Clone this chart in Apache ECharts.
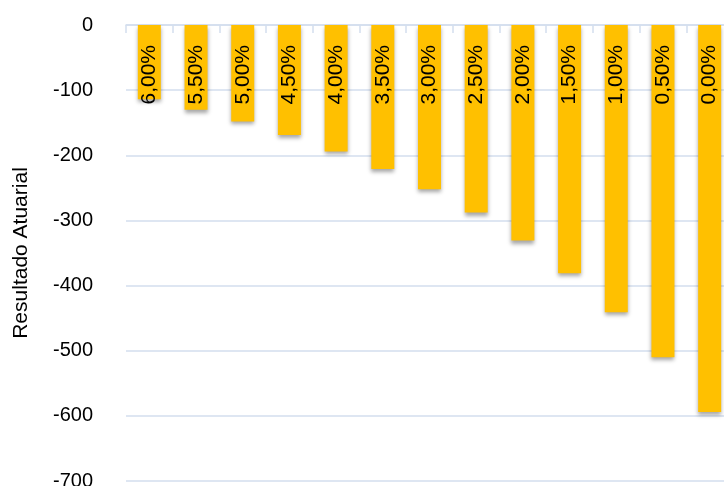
<!DOCTYPE html>
<html>
<head>
<meta charset="utf-8">
<script src="https://cdn.jsdelivr.net/npm/echarts@6/dist/echarts.min.js"></script>
<style>
html,body{margin:0;padding:0;background:#fff;overflow:hidden;width:724px;height:486px;}
#c{width:733px;height:486px;}
</style>
</head>
<body>
<div id="c"></div>
<script>
const categories = ['6,00%','5,50%','5,00%','4,50%','4,00%','3,50%','3,00%','2,50%','2,00%','1,50%','1,00%','0,50%','0,00%'];
const values = [-114, -130, -148, -169, -194, -221, -252, -288, -331, -381, -441, -510, -594];
const yTicks = { min: -700, max: 0, interval: 100 };
const axisName = 'Resultado Atuarial';

const chart = echarts.init(document.getElementById('c'), null, { renderer: 'canvas' });
chart.setOption({
  animation: false,
  grid: { left: 126, right: 0, top: 25, bottom: 5, containLabel: false, outerBoundsMode: 'none' },
  xAxis: {
    type: 'category',
    data: categories,
    axisLine: { onZero: true, lineStyle: { color: '#D3DEEE', width: 1.5 } },
    axisTick: { show: true, length: 8, lineStyle: { color: '#D3DEEE', width: 1.5 } },
    axisLabel: { show: false },
    splitLine: { show: false }
  },
  yAxis: {
    type: 'value',
    min: yTicks.min, max: yTicks.max, interval: yTicks.interval,
    name: axisName,
    nameLocation: 'middle',
    nameGap: 94,
    nameTextStyle: { fontFamily: 'Liberation Sans', fontSize: 21, color: '#000' },
    axisLine: { show: false },
    axisTick: { show: false },
    axisLabel: { fontFamily: 'Liberation Sans', fontSize: 20, color: '#000', margin: 33 },
    splitLine: { lineStyle: { color: '#D3DEEE', width: 1.5 } }
  },
  series: [{
    type: 'bar',
    data: values,
    barWidth: 23,
    itemStyle: {
      color: '#FFC000',
      shadowColor: 'rgba(0,0,0,0.35)',
      shadowBlur: 4,
      shadowOffsetY: 3
    },
    label: {
      show: true,
      position: 'insideTop',
      distance: 20,
      rotate: 90,
      align: 'right',
      verticalAlign: 'middle',
      formatter: (p) => categories[p.dataIndex],
      fontFamily: 'Liberation Sans',
      fontSize: 21,
      color: '#000'
    }
  }]
});
</script>
</body>
</html>
